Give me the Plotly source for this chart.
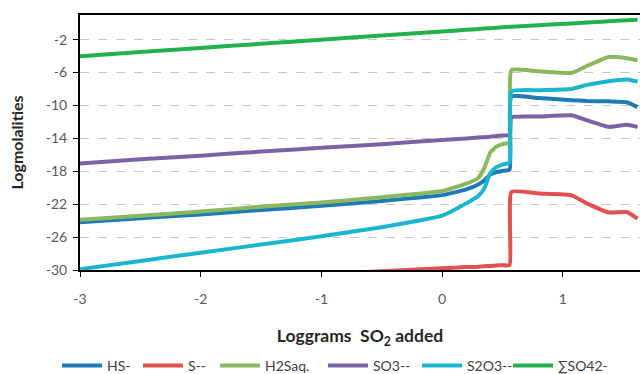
import plotly.graph_objects as go

x_pre = [-3, -2.5, -2, -1.5, -1, -0.5, 0, 0.2, 0.3, 0.35, 0.4, 0.45, 0.5, 0.56]
x_post = [0.575, 0.8, 1.07, 1.2, 1.38, 1.53, 1.62]

hs = [-24.2, -23.7, -23.25, -22.7, -22.2, -21.6, -20.9, -20.2, -19.6, -19.1, -18.4, -18.1, -17.95, -17.8,
      -8.9, -9.1, -9.35, -9.45, -9.5, -9.6, -10.2]
s2 = [-31.9, -31.55, -31.2, -30.85, -30.5, -30.15, -29.8, -29.65, -29.6, -29.55, -29.5, -29.45, -29.42, -29.4,
      -20.5, -20.7, -20.9, -21.9, -23.0, -22.95, -23.75]
h2s = [-23.9, -23.4, -22.9, -22.3, -21.8, -21.15, -20.4, -19.5, -18.8, -17.6, -15.7, -15.0, -14.7, -14.5,
       -5.7, -5.85, -6.05, -5.2, -4.1, -4.25, -4.5]
so3 = [-17.05, -16.55, -16.1, -15.6, -15.15, -14.7, -14.2, -14.0, -13.9, -13.85, -13.8, -13.7, -13.65, -13.6,
       -11.45, -11.35, -11.2, -11.8, -12.6, -12.35, -12.6]
s2o3 = [-29.9, -28.9, -27.9, -26.9, -25.9, -24.8, -23.4, -21.9, -21.0, -20.1, -18.2, -17.5, -17.2, -16.9,
        -8.3, -8.15, -8.0, -7.5, -7.05, -6.85, -7.1]
so4 = [-4.0, -3.5, -3.0, -2.5, -2.0, -1.5, -1.0, -0.8, -0.7, -0.65, -0.6, -0.55, -0.5, -0.44,
       -0.42, -0.24, -0.02, 0.08, 0.23, 0.35, 0.42]

names = ["HS-", "S--", "H2Saq.", "SO3--", "S2O3--", "∑SO42-"]
colors = ["#1F7BB6", "#E0514F", "#8BB85F", "#7B62A6", "#1AB7CC", "#22B14C"]
series = [hs, s2, h2s, so3, s2o3, so4]
legend_starts = [62, 143, 220, 328, 422, 513]  # left edge of each legend entry (px)

x_all = x_pre + x_post
y_ticks = [-30, -26, -22, -18, -14, -10, -6, -2]
x_ticks = [-3, -2, -1, 0, 1]

fig = go.Figure()
legend_ids = ["legend"] + [f"legend{i}" for i in range(2, len(names) + 1)]
for name, col, ys, lid in zip(names, colors, series, legend_ids):
    fig.add_trace(go.Scatter(x=x_all, y=ys, mode="lines", name=name, legend=lid,
                             line=dict(color=col, width=4, shape="spline", smoothing=0.4)))

font_family = "Lato, 'Open Sans', sans-serif"
W, H = 640, 374
legend_layout = {}
for lid, xs in zip(legend_ids, legend_starts):
    legend_layout[lid] = dict(xref="container", yref="container", x=(xs - 5) / W, y=1 - 366 / H,
                              xanchor="left", yanchor="middle", orientation="h",
                              font=dict(size=14, color="#404040"), itemwidth=40,
                              bgcolor="rgba(0,0,0,0)")

fig.update_layout(
    width=W, height=H,
    margin=dict(l=80, r=0, t=15, b=104),
    plot_bgcolor="white", paper_bgcolor="white",
    font=dict(family=font_family, size=14, color="#595959"),
    showlegend=True,
    xaxis=dict(range=[-3, 1.64], tickvals=x_ticks, ticktext=[str(v) for v in x_ticks],
               showline=True, linecolor="black", linewidth=2, mirror=True,
               ticks="outside", ticklen=5, tickcolor="black", tickwidth=1,
               showgrid=False, zeroline=False, ticklabelstandoff=10, automargin=False,
               title=dict(text="<b>Loggrams  SO<sub>2</sub> added</b>", font=dict(size=17.5, color="#262626"),
                          standoff=24)),
    yaxis=dict(range=[-30, 1], tickvals=y_ticks, ticktext=[str(v) for v in y_ticks],
               showline=True, linecolor="black", linewidth=2,
               ticks="outside", ticklen=5, tickcolor="black", tickwidth=1,
               showgrid=True, gridcolor="#C8C8C8", griddash="dash", gridwidth=1,
               zeroline=False, ticklabelstandoff=3, automargin=False,
               title=dict(text="<b>Logmolalities</b>", font=dict(size=16, color="#262626"), standoff=18)),
    **legend_layout,
)

fig.write_html("out.html", config={"displayModeBar": False},
               post_script="document.body.style.margin='0';document.body.style.overflow='hidden';")
